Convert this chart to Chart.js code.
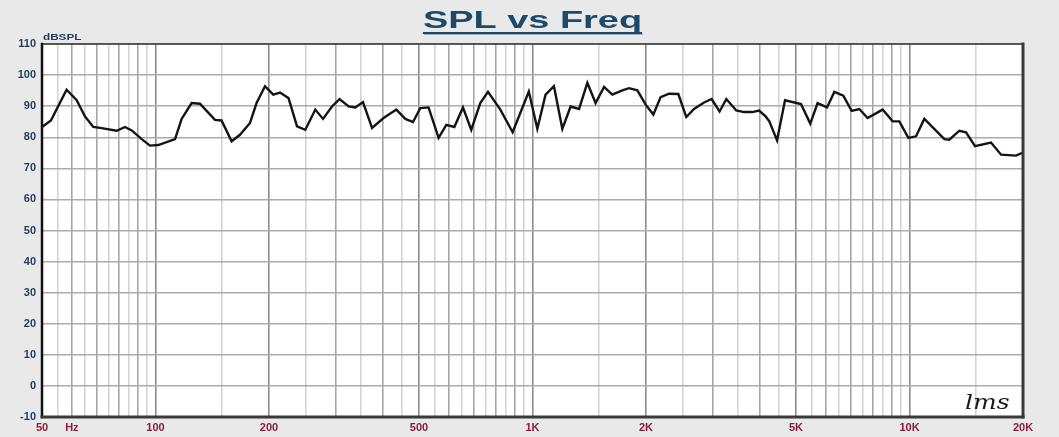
<!DOCTYPE html>
<html><head><meta charset="utf-8">
<script src="https://cdn.jsdelivr.net/npm/chart.js@4.4.1/dist/chart.umd.min.js"></script>
<style>html,body{margin:0;padding:0;background:#fff;overflow:hidden}</style>
</head><body>
<canvas id="c" width="1059" height="437"></canvas>
<script>
const TITLE = "SPL vs Freq";
const Y_UNIT = "dBSPL";
const LOGO = "lms";
const freqs = [50, 52.8, 58.1, 61.8, 65.0, 68.4, 71.3, 78.9, 83.0, 86.5,
  91.9, 96.7, 101.7, 112.7, 117.3, 124.7, 131.2, 143.8, 149.7, 159.2,
  167.5, 178.1, 185.4, 195.2, 205.3, 213.9, 225.3, 237.4, 249.7, 265.4,
  278.2, 293.8, 307.8, 325.3, 338.8, 355.1, 375.3, 402.7, 435.4, 459.9,
  482.1, 504, 530, 563.6, 590.7, 620.4, 653.9, 687.9, 726.9, 762.0,
  821.6, 885.9, 977.7, 1030, 1083, 1140, 1200, 1262, 1329, 1398,
  1470, 1548, 1628, 1731, 1803, 1897, 1996, 2092, 2187, 2302,
  2437, 2558, 2682, 2851, 2986, 3135, 3267, 3472, 3640, 3828,
  3989, 4153, 4248, 4453, 4675, 5154, 5455, 5704, 6043, 6318,
  6675, 7024, 7360, 7743, 8486, 9021, 9396, 9931, 10406, 10946,
  12372, 12751, 13559, 14122, 14920, 16451, 17496, 19169, 20000];
const spl = [83.3, 85.4, 95.3, 91.9, 86.7, 83.3, 83.0, 82.1, 83.3, 82.2,
  79.4, 77.3, 77.5, 79.4, 85.9, 91.0, 90.8, 85.6, 85.4, 78.7,
  80.8, 84.6, 91.0, 96.4, 93.7, 94.4, 92.6, 83.5, 82.4, 88.9,
  85.9, 89.9, 92.3, 89.9, 89.6, 91.3, 83.0, 86.2, 88.9, 85.9,
  84.9, 89.4, 89.6, 79.8, 84.0, 83.3, 89.6, 82.4, 91.0, 94.6,
  88.9, 81.6, 94.7, 82.7, 93.7, 96.4, 82.7, 89.9, 89.1, 97.5,
  91.0, 96.2, 93.7, 95.1, 95.8, 95.1, 90.5, 87.3, 92.9, 94.0,
  93.9, 86.5, 89.1, 91.2, 92.3, 88.3, 92.3, 88.6, 88.1, 88.1,
  88.6, 86.7, 85.1, 79.0, 91.9, 90.7, 84.4, 91.0, 89.6, 94.6,
  93.4, 88.5, 89.1, 86.2, 88.9, 85.1, 85.1, 79.8, 80.3, 85.9,
  79.4, 79.2, 82.1, 81.6, 77.1, 78.3, 74.4, 74.1, 75.1];
const xLabelValues = [50, 60, 100, 200, 500, 1000, 2000, 5000, 10000, 20000];
const xLabelTexts  = ["50", "Hz", "100", "200", "500", "1K", "2K", "5K", "10K", "20K"];
const yMin = -10, yMax = 110, yStep = 5, yLabelStep = 10;
const xMin = 50, xMax = 20000;

// grid positions: every half-step of each decade
const gridFreqs = [];
[10, 100, 1000, 10000].forEach(d => {
  for (let n = 2; n <= 19; n++) {
    const f = n * d / 2;
    if (f >= xMin && f <= xMax && !gridFreqs.includes(f)) gridFreqs.push(f);
  }
});
const yTicks = [];
for (let v = yMin; v <= yMax; v += yStep) yTicks.push(v);

function decadeOf(v){ return Math.pow(10, Math.floor(Math.log10(v) + 1e-9)); }

const bgPlugin = {
  id: 'bg',
  beforeDraw(chart) {
    const {ctx, chartArea: a} = chart;
    ctx.save();
    ctx.fillStyle = '#e9e9e9';
    ctx.fillRect(0, 0, chart.width, chart.height);
    ctx.fillStyle = '#ffffff';
    ctx.fillRect(a.left, a.top, a.right - a.left, a.bottom - a.top);
    ctx.restore();
  }
};
const framePlugin = {
  id: 'frame',
  afterDatasetsDraw(chart) {
    const {ctx, chartArea: a} = chart;
    ctx.save();
    ctx.lineCap = 'square';
    ctx.strokeStyle = '#333';
    ctx.lineWidth = 1.5;
    ctx.beginPath(); ctx.moveTo(a.left, a.top); ctx.lineTo(a.right, a.top); ctx.stroke();
    ctx.strokeStyle = '#111';
    ctx.lineWidth = 2.5;
    ctx.beginPath(); ctx.moveTo(a.left, a.top); ctx.lineTo(a.left, a.bottom); ctx.stroke();
    ctx.strokeStyle = '#3a3a3a';
    ctx.lineWidth = 3;
    ctx.beginPath(); ctx.moveTo(a.left, a.bottom); ctx.lineTo(a.right, a.bottom); ctx.stroke();
    ctx.beginPath(); ctx.moveTo(a.right, a.top); ctx.lineTo(a.right, a.bottom); ctx.stroke();
    ctx.restore();
  }
};
const textPlugin = {
  id: 'texts',
  afterDraw(chart) {
    const {ctx, chartArea: a} = chart;
    ctx.save();
    // title, horizontally stretched
    const cx = (a.left + a.right) / 2;
    ctx.save();
    ctx.translate(cx, 28);
    ctx.scale(1.58, 1);
    ctx.font = 'bold 24px "Liberation Sans", Arial, sans-serif';
    ctx.fillStyle = '#1d4a6b';
    ctx.textAlign = 'center';
    ctx.textBaseline = 'alphabetic';
    ctx.fillText(TITLE, 0, 0);
    const w = ctx.measureText(TITLE).width;
    ctx.restore();
    const tw = w * 1.58;
    ctx.fillStyle = '#1d4a6b';
    ctx.fillRect(cx - tw / 2, 32, tw, 2);
    ctx.fillStyle = 'rgba(29,74,107,0.35)';
    ctx.fillRect(cx - tw / 2 + 1, 34, tw, 1);
    // y unit
    ctx.save();
    ctx.translate(a.left + 1, 40);
    ctx.scale(1.3, 1);
    ctx.font = 'bold 9px "Liberation Sans", Arial, sans-serif';
    ctx.fillStyle = '#1d3b5c';
    ctx.textAlign = 'left';
    ctx.textBaseline = 'alphabetic';
    ctx.fillText(Y_UNIT, 0, 0);
    ctx.restore();
    // logo
    ctx.save();
    ctx.translate(a.right - 58, a.bottom - 8);
    ctx.scale(1.25, 1);
    ctx.font = 'italic 20px "DejaVu Serif", serif';
    ctx.fillStyle = '#1a1a1a';
    ctx.textAlign = 'left';
    ctx.fillText(LOGO, 0, 0);
    ctx.restore();
    ctx.restore();
  }
};

new Chart(document.getElementById('c'), {
  type: 'line',
  data: {
    datasets: [{
      data: freqs.map((f, i) => ({x: f, y: spl[i]})),
      borderColor: '#141414',
      borderWidth: 2.4,
      pointRadius: 0,
      tension: 0,
      fill: false
    }]
  },
  options: {
    responsive: false,
    animation: false,
    devicePixelRatio: 1,
    layout: {padding: {left: 0, top: 44, right: 36, bottom: 0}},
    plugins: {legend: {display: false}, tooltip: {enabled: false}, title: {display: false}},
    scales: {
      x: {
        type: 'logarithmic', min: xMin, max: xMax,
        afterBuildTicks: s => { s.ticks = gridFreqs.map(v => ({value: v})); },
        afterFit: s => { s.height = 20; },
        border: {display: false},
        grid: {
          drawTicks: false,
          color: c => {
            const v = c.tick ? c.tick.value : 0;
            const m = v / decadeOf(v);
            if (Math.abs(m - Math.round(m)) > 0.01) return '#d4d4d4';
            if ([1, 2, 5].includes(Math.round(m))) return '#8c8c8c';
            return '#a6a6a6';
          },
          lineWidth: 1.6
        },
        ticks: {
          autoSkip: false, maxRotation: 0, minRotation: 0, padding: 4,
          color: '#8a1d3e',
          font: {family: '"Liberation Sans", Arial, sans-serif', size: 11, weight: 'bold'},
          callback: (v) => {
            const i = xLabelValues.findIndex(x => Math.abs(x - v) < 1e-6);
            return i >= 0 ? xLabelTexts[i] : '';
          }
        }
      },
      y: {
        type: 'linear', min: yMin, max: yMax,
        afterBuildTicks: s => { s.ticks = yTicks.map(v => ({value: v})); },
        afterFit: s => { s.width = 42; },
        border: {display: false},
        grid: {
          drawTicks: false,
          color: c => (c.tick && c.tick.value % yLabelStep === 0) ? '#ababab' : '#d8d8d8',
          lineWidth: 1.5
        },
        ticks: {
          padding: 6,
          color: '#1d3b5c',
          font: {family: '"Liberation Sans", Arial, sans-serif', size: 11, weight: 'bold'},
          callback: v => (v % yLabelStep === 0) ? String(v) : ''
        }
      }
    }
  },
  plugins: [bgPlugin, framePlugin, textPlugin]
});
</script>
</body></html>
